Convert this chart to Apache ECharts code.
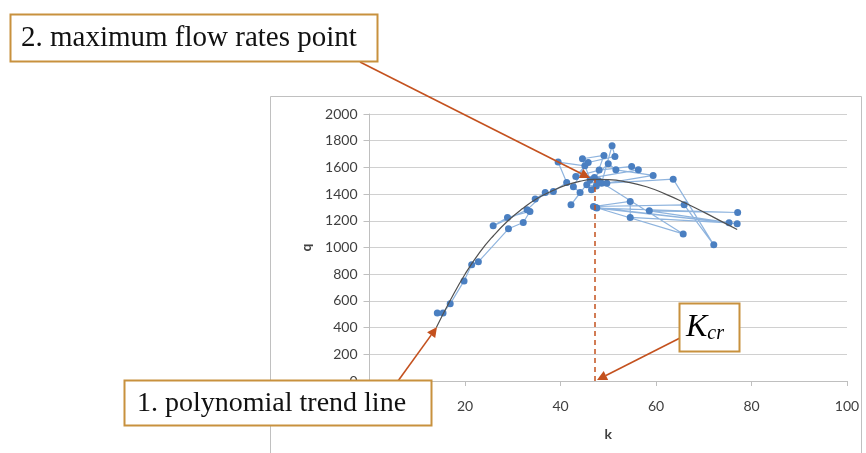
<!DOCTYPE html>
<html><head><meta charset="utf-8">
<script src="https://cdn.jsdelivr.net/npm/echarts@6/dist/echarts.min.js"></script>
<style>html,body{margin:0;padding:0;background:#fff}#c{width:866px;height:453px}</style>
</head><body><div id="c"></div>
<script>
// Measured series (k = density, q = flow), in time order
const kValues = [14.2,15.4,16.9,19.8,21.4,22.8,29.1,32.2,33.6,28.9,25.9,33.0,36.8,34.7,38.5,41.3,39.5,45.1,42.7,44.1,42.2,46.2,44.6,49.1,46.5,48.6,50.8,51.4,45.8,43.2,48.1,54.9,56.3,47.1,50.0,51.6,59.4,49.7,63.6,72.1,65.9,46.9,54.6,54.6,75.3,47.6,77.1,58.6,77.0,47.4,65.7,48.0,45.5,47.5];
const qValues = [510,510,578,750,870,893,1140,1187,1270,1225,1162,1282,1412,1363,1420,1487,1640,1612,1455,1412,1320,1507,1665,1690,1432,1482,1762,1682,1637,1532,1580,1607,1582,1525,1627,1582,1540,1482,1512,1020,1320,1307,1345,1225,1185,1295,1262,1275,1177,1300,1102,1500,1470,1460];
// Polynomial trend line
const trendK = [14,17,20,23,26,29,32,35,38,41,44,47,50,54,58,62,66,70,74,77];
const trendQ = [400,610,800,960,1090,1200,1290,1365,1420,1465,1495,1510,1508,1490,1455,1400,1335,1265,1190,1135];
// Critical density
const kCritical = [47.1];
const qAtCritical = [1507];
const xTicks = {min:0,max:100,interval:20};
const yTicks = {min:0,max:2000,interval:200};

const chart = echarts.init(document.getElementById('c'), null, {renderer:'canvas'});
const pts = kValues.map((k,i)=>[k,qValues[i]]);
const trend = trendK.map((k,i)=>[k,trendQ[i]]);
const ARROW = '#C4511E';
const BOX = '#C8913E';

function arrow(x1,y1,x2,y2){
  const a = Math.atan2(y2-y1,x2-x1), L=10, W=5;
  const bx = x2 - L*Math.cos(a), by = y2 - L*Math.sin(a);
  return [
    {type:'line',z:50,shape:{x1:x1,y1:y1,x2:bx,y2:by},style:{stroke:ARROW,lineWidth:1.6}},
    {type:'polygon',z:50,shape:{points:[[x2,y2],[bx+W*Math.sin(a),by-W*Math.cos(a)],[bx-W*Math.sin(a),by+W*Math.cos(a)]]},style:{fill:ARROW}}
  ];
}

const option = {
  animation:false,
  backgroundColor:'#fff',
  grid:{left:369.5,top:114,width:477.5,height:267,containLabel:false},
  xAxis:{type:'value',min:xTicks.min,max:xTicks.max,interval:xTicks.interval,
    name:'k',nameLocation:'middle',nameGap:46,
    nameTextStyle:{fontFamily:'Lato',fontSize:14,fontWeight:'bold',color:'#404040'},
    axisLine:{show:true,lineStyle:{color:'#bfbfbf'}},
    axisTick:{show:true,length:5,lineStyle:{color:'#bfbfbf'}},
    axisLabel:{fontFamily:'Lato',fontSize:14,color:'#404040',margin:18,formatter:v=>String(v)},
    splitLine:{show:false}},
  yAxis:{type:'value',min:yTicks.min,max:yTicks.max,interval:yTicks.interval,
    name:'q',nameLocation:'middle',nameGap:56,nameRotate:90,
    nameTextStyle:{fontFamily:'Lato',fontSize:14,fontWeight:'bold',color:'#404040'},
    axisLine:{show:true,lineStyle:{color:'#bfbfbf'}},
    axisTick:{show:true,length:6,lineStyle:{color:'#bfbfbf'}},
    axisLabel:{fontFamily:'Lato',fontSize:14,color:'#404040',margin:12,formatter:v=>String(v)},
    splitLine:{show:true,lineStyle:{color:'#d0d0d0',width:1}}},
  series:[
    {type:'line',data:pts,symbol:'circle',symbolSize:7,z:3,
      lineStyle:{color:'#8fb4de',width:1.2},
      itemStyle:{color:'#4a7fc1'}},
    {type:'line',data:trend,smooth:true,symbol:'none',z:4,
      lineStyle:{color:'#505050',width:1.2},
      markLine:{silent:true,symbol:['none','none'],label:{show:false},
        lineStyle:{color:ARROW,type:[5,4],width:1.5},
        data:[[{coord:[kCritical[0],0]},{coord:[kCritical[0],qAtCritical[0]]}]]}}
  ],
  graphic:[
    {type:'rect',z:-1,shape:{x:270.5,y:96.5,width:591,height:400},style:{fill:'none',stroke:'#c0c0c0',lineWidth:1}},
    ...arrow(360,62,590,178),
    ...arrow(398,381,437,327),
    ...arrow(680,338,597,380),
    {type:'rect',z:60,shape:{x:10.5,y:14.5,width:367,height:47},style:{fill:'#fff',stroke:BOX,lineWidth:2}},
    {type:'text',z:61,x:21,y:38,style:{text:'2. maximum flow rates point',font:'29px "Liberation Serif"',fill:'#111',textVerticalAlign:'middle'}},
    {type:'rect',z:60,shape:{x:124.5,y:380.5,width:307,height:45},style:{fill:'#fff',stroke:BOX,lineWidth:2}},
    {type:'text',z:61,x:137,y:404,style:{text:'1. polynomial trend line',font:'28px "Liberation Serif"',fill:'#111',textVerticalAlign:'middle'}},
    {type:'rect',z:60,shape:{x:679.5,y:303.5,width:60,height:48},style:{fill:'#fff',stroke:BOX,lineWidth:2}},
    {type:'text',z:61,x:686,y:328,style:{rich:{K:{fontFamily:'Liberation Serif',fontStyle:'italic',fontSize:32,color:'#111'},s:{fontFamily:'Liberation Serif',fontStyle:'italic',fontSize:20,color:'#111',padding:[12,0,0,0]}},text:'{K|K}{s|cr}',textVerticalAlign:'middle'}}
  ]
};
chart.setOption(option);
</script></body></html>
